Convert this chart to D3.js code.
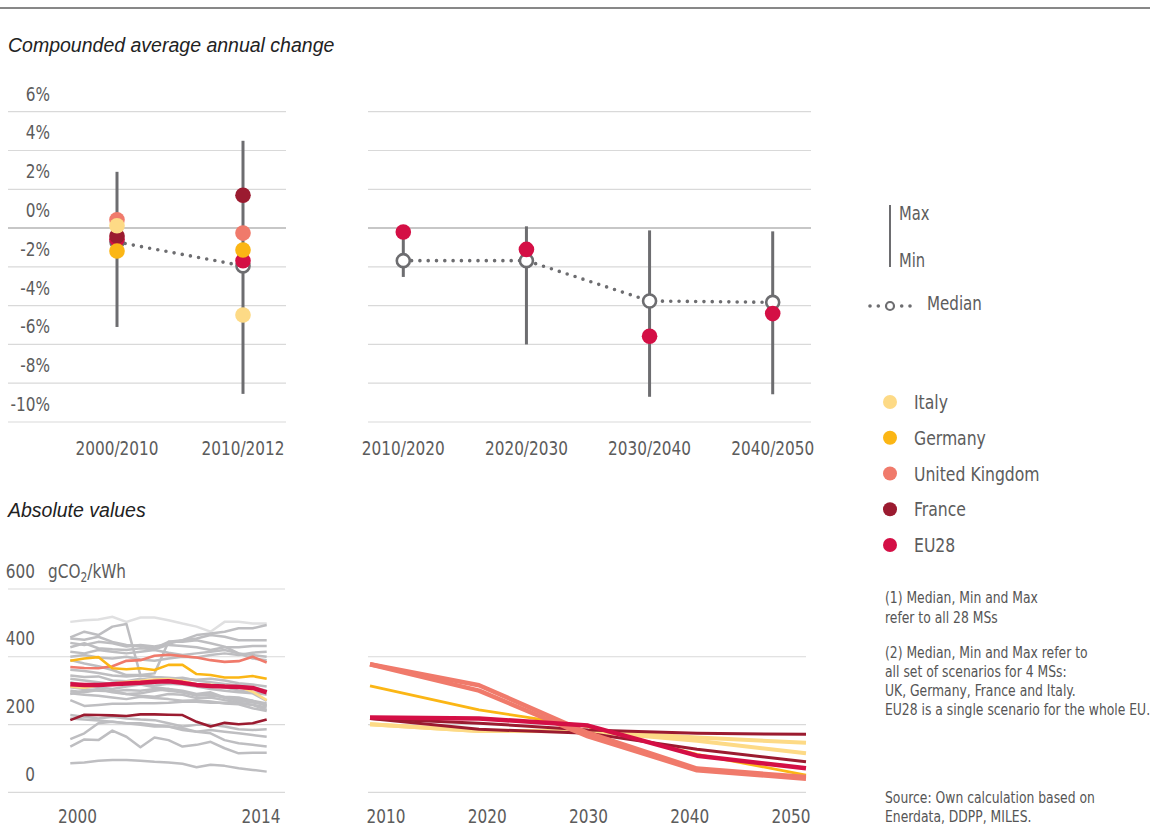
<!DOCTYPE html>
<html>
<head>
<meta charset="utf-8">
<script src="https://cdn.jsdelivr.net/npm/d3@7"></script>
<style>
  body { margin: 0; background: #fff; }
  .narrow { font-family: 'Liberation Sans Narrow', 'DejaVu Sans Condensed', 'Arial Narrow', sans-serif; }
  .title { font-family: 'Liberation Sans', Arial, sans-serif; font-style: italic; font-size: 19.5px; fill: #222; }
</style>
</head>
<body>
<div id="chart"></div>
<script>
var w = 1162,
    h = 828;

// ---- top: compounded average annual change (%)
var leftPeriods = ["2000/2010", "2010/2012"];
var leftMax = [2.9, 4.5];
var leftMin = [-5.1, -8.55];
var leftMedian = [-0.72, -1.95];
var italyChange = [0.12, -4.48];
var germanyChange = [-1.18, -1.13];
var ukChange = [0.43, -0.26];
var franceChange = [-0.41, 1.69];
var eu28Change = [-0.58, -1.68];

var rightPeriods = ["2010/2020", "2020/2030", "2030/2040", "2040/2050"];
var rightMax = [-0.3, 0.09, -0.12, -0.17];
var rightMin = [-2.52, -6.0, -8.7, -8.57];
var rightMedian = [-1.68, -1.68, -3.76, -3.83];
var eu28Scenario = [-0.2, -1.1, -5.58, -4.41];

var pctTicks = [6, 4, 2, 0, -2, -4, -6, -8, -10];

// ---- bottom left: historic gCO2/kWh, 2000-2014
var histYears = [2000, 2001, 2002, 2003, 2004, 2005, 2006, 2007, 2008, 2009, 2010, 2011, 2012, 2013, 2014];
var greyLight = [503, 508, 510, 518, 503, 516, 516, 508, 498, 489, 474, 503, 503, 498, 498];
var greySeries = [
  [457, 474, 464, 489, 497, 345, 340, 335, 338, 330, 325, 320, 315, 310, 300],
  [454, 450, 459, 444, 435, 432, 425, 444, 449, 464, 469, 474, 484, 484, 494],
  [441, 435, 444, 440, 430, 435, 430, 438, 449, 454, 464, 459, 449, 449, 449],
  [428, 440, 425, 422, 420, 425, 422, 435, 432, 428, 420, 428, 428, 432, 432],
  [415, 410, 420, 415, 410, 415, 420, 412, 405, 410, 415, 420, 410, 405, 400],
  [400, 405, 398, 395, 400, 392, 388, 395, 400, 398, 405, 410, 405, 412, 415],
  [390, 380, 372, 361, 346, 346, 351, 444, 444, 449, 440, 430, 410, 395, 390],
  [362, 358, 352, 345, 342, 345, 340, 338, 335, 332, 335, 330, 322, 318, 312],
  [345, 340, 342, 330, 328, 335, 330, 325, 320, 318, 315, 310, 300, 295, 288],
  [335, 330, 325, 320, 322, 318, 315, 320, 318, 312, 305, 300, 295, 292, 270],
  [325, 315, 310, 305, 312, 318, 310, 305, 300, 290, 295, 280, 275, 270, 262],
  [310, 305, 300, 298, 302, 300, 305, 300, 295, 288, 285, 282, 280, 270, 255],
  [300, 295, 302, 298, 290, 285, 282, 290, 288, 278, 280, 272, 265, 258, 250],
  [292, 288, 285, 280, 275, 282, 278, 275, 270, 272, 268, 262, 260, 248, 240],
  [290, 300, 305, 295, 290, 292, 300, 305, 295, 285, 290, 278, 270, 265, 258],
  [272, 255, 258, 261, 261, 263, 263, 264, 267, 267, 264, 264, 262, 258, 243],
  [228, 223, 218, 223, 218, 215, 213, 204, 194, 199, 199, 194, 186, 184, 186],
  [218, 215, 212, 208, 204, 199, 194, 194, 189, 179, 184, 179, 174, 169, 164],
  [157, 174, 204, 208, 204, 204, 199, 194, 184, 179, 174, 154, 145, 140, 135],
  [135, 156, 154, 182, 164, 133, 162, 154, 135, 140, 149, 130, 115, 117, 117],
  [86, 88, 93, 95, 95, 93, 90, 88, 84, 74, 81, 78, 71, 66, 61]
];
var italyHist = [312, 309, 315, 321, 326, 329, 333, 334, 329, 319, 317, 314, 312, 297, 272];
var germanyHist = [388, 395, 399, 366, 363, 366, 361, 376, 376, 349, 346, 339, 339, 343, 335];
var ukHist = [370, 367, 366, 372, 388, 390, 403, 406, 402, 398, 390, 385, 387, 400, 383];
var franceHist = [213, 229, 228, 227, 225, 230, 230, 229, 228, 208, 194, 205, 201, 204, 215];
var eu28Hist = [319, 317, 317, 319, 321, 323, 326, 328, 323, 317, 314, 312, 311, 308, 295];
var histTicks = [600, 400, 200, 0];

// ---- bottom right: scenarios gCO2/kWh, 2010-2050
var scenYears = [2010, 2020, 2030, 2040, 2050];
var italyScenA = [201, 181, 182, 162, 146];
var italyScenB = [201, 181, 180, 152, 115];
var germanyScen = [314, 243, 194, 112, 51];
var franceScenA = [218, 204, 184, 174, 171];
var franceScenB = [218, 186, 174, 127, 90];
var ukScenA = [378, 316, 175, 70, 45];
var ukScenB = [378, 300, 165, 65, 40];
var eu28Scen = [221, 218, 197, 108, 71];

var countries = ["Italy", "Germany", "United Kingdom", "France", "EU28"];
var colors = ["#fdda86", "#fbb615", "#f07a6b", "#9b1b30", "#d40f45"];
var color = d3.scaleOrdinal().domain(countries).range(colors);

var grid = "#d9d9d9", zeroLine = "#b4b4b4", ink = "#6d6d70", label = "#5c5c5c";
var squeeze = 0.85;   // fake a condensed face

var svg = d3.select("#chart")
  .append("svg")
  .attr("width", w)
  .attr("height", h);

// put condensed text at (x, y)
function place(sel, xf, yf, k) {
  sel.attr("transform", function(d, i) {
    var x = typeof xf === "function" ? xf(d, i) : xf;
    var y = typeof yf === "function" ? yf(d, i) : yf;
    return "translate(" + x + "," + y + ") scale(" + (k || squeeze) + ",1)";
  });
  return sel;
}

svg.append("line")
  .attr("x1", 0).attr("x2", 1150).attr("y1", 8).attr("y2", 8)
  .attr("stroke", "#111").attr("stroke-width", 1);

svg.append("text").attr("class", "title").attr("x", 8).attr("y", 52)
  .text("Compounded average annual change");
svg.append("text").attr("class", "title").attr("x", 8).attr("y", 517)
  .text("Absolute values");

// ================= top panels
var yPct = d3.scaleLinear().domain([-10, 6]).range([422, 111.7]);

function pctGrid(x0, x1) {
  svg.append("g").selectAll("line")
    .data(pctTicks)
    .enter()
    .append("line")
    .attr("x1", x0).attr("x2", x1)
    .attr("y1", function(d) { return yPct(d); })
    .attr("y2", function(d) { return yPct(d); })
    .attr("stroke", function(d) { return d === 0 ? zeroLine : grid; })
    .attr("stroke-width", function(d) { return d === 0 ? 1.6 : 1.2; });
}
pctGrid(8, 286);
pctGrid(368, 811);

place(svg.append("g").selectAll("text")
  .data(pctTicks)
  .enter()
  .append("text")
  .attr("class", "narrow")
  .attr("text-anchor", "end")
  .attr("font-size", "20px")
  .attr("fill", label)
  .text(function(d) { return d + "%"; }),
  50, function(d) { return yPct(d) - 11; });

function rangePanel(periods, maxs, mins, medians, x0, x1) {
  var x = d3.scalePoint().domain(periods).range([x0, x1]);
  var g = svg.append("g");
  g.selectAll(".whisker")
    .data(periods)
    .enter()
    .append("line")
    .attr("x1", function(d) { return x(d); })
    .attr("x2", function(d) { return x(d); })
    .attr("y1", function(d, i) { return yPct(maxs[i]); })
    .attr("y2", function(d, i) { return yPct(mins[i]); })
    .attr("stroke", ink)
    .attr("stroke-width", 3);

  var line = d3.line()
    .x(function(d) { return x(d); })
    .y(function(d, i) { return yPct(medians[i]); });
  g.append("path")
    .datum(periods)
    .attr("d", line)
    .attr("fill", "none")
    .attr("stroke", ink)
    .attr("stroke-width", 3.6)
    .attr("stroke-linecap", "round")
    .attr("stroke-dasharray", "0,8.3");

  g.selectAll(".median")
    .data(periods)
    .enter()
    .append("circle")
    .attr("cx", function(d) { return x(d); })
    .attr("cy", function(d, i) { return yPct(medians[i]); })
    .attr("r", 6.5)
    .attr("fill", "#fff")
    .attr("stroke", ink)
    .attr("stroke-width", 2.6);

  place(g.selectAll(".tick")
    .data(periods)
    .enter()
    .append("text")
    .attr("class", "narrow")
    .attr("text-anchor", "middle")
    .attr("font-size", "20px")
    .attr("fill", label)
    .text(function(d) { return d; }),
    function(d) { return x(d); }, 455);
  return x;
}

var xLeft = rangePanel(leftPeriods, leftMax, leftMin, leftMedian, 117, 243);
var xRight = rangePanel(rightPeriods, rightMax, rightMin, rightMedian, 403.3, 772.7);

function dots(x, periods, values, name) {
  svg.append("g").selectAll("circle")
    .data(values)
    .enter()
    .append("circle")
    .attr("cx", function(d, i) { return x(periods[i]); })
    .attr("cy", function(d) { return yPct(d); })
    .attr("r", 7.8)
    .attr("fill", color(name));
}
dots(xLeft, leftPeriods, eu28Change, "EU28");
dots(xLeft, leftPeriods, franceChange, "France");
dots(xLeft, leftPeriods, ukChange, "United Kingdom");
dots(xLeft, leftPeriods, italyChange, "Italy");
dots(xLeft, leftPeriods, germanyChange, "Germany");
dots(xRight, rightPeriods, eu28Scenario, "EU28");

// legend: max/min, median
var lg = svg.append("g").attr("class", "narrow").attr("font-size", "20px").attr("fill", label);
lg.append("line").attr("x1", 890).attr("x2", 890).attr("y1", 205).attr("y2", 267)
  .attr("stroke", ink).attr("stroke-width", 2);
place(lg.append("text").text("Max"), 899, 220, 0.82);
place(lg.append("text").text("Min"), 899, 267, 0.82);
lg.selectAll(".mdot")
  .data([870, 878.3, 901.7, 910])
  .enter()
  .append("circle")
  .attr("cx", function(d) { return d; })
  .attr("cy", 306)
  .attr("r", 1.8)
  .attr("fill", ink);
lg.append("circle").attr("cx", 890).attr("cy", 306).attr("r", 4)
  .attr("fill", "#fff").attr("stroke", ink).attr("stroke-width", 2.2);
place(lg.append("text").text("Median"), 927, 310, 0.84);

var legendY = d3.scalePoint().domain(countries).range([402, 545]);
var items = lg.selectAll(".item")
  .data(countries)
  .enter()
  .append("g");
items.append("circle")
  .attr("cx", 890)
  .attr("cy", function(d) { return legendY(d); })
  .attr("r", 7)
  .attr("fill", function(d) { return color(d); });
place(items.append("text")
  .text(function(d) { return d; }),
  914, function(d) { return legendY(d) + 7; }, 0.87);

// ================= bottom panels
var yAbs = d3.scaleLinear().domain([0, 600]).range([792.3, 589]);

svg.append("g").selectAll("line")
  .data(histTicks)
  .enter()
  .append("line")
  .attr("x1", 8).attr("x2", 285)
  .attr("y1", function(d) { return yAbs(d); })
  .attr("y2", function(d) { return yAbs(d); })
  .attr("stroke", grid).attr("stroke-width", 1.2);
svg.append("g").selectAll("line")
  .data(histTicks.slice(1))
  .enter()
  .append("line")
  .attr("x1", 368).attr("x2", 806)
  .attr("y1", function(d) { return yAbs(d); })
  .attr("y2", function(d) { return yAbs(d); })
  .attr("stroke", grid).attr("stroke-width", 1.2);

place(svg.append("g").selectAll("text")
  .data(histTicks)
  .enter()
  .append("text")
  .attr("class", "narrow")
  .attr("text-anchor", "end")
  .attr("font-size", "20px")
  .attr("fill", label)
  .text(function(d) { return d; }),
  35, function(d) { return yAbs(d) - 11.5; });

var unit = place(svg.append("text").attr("class", "narrow")
  .attr("font-size", "20px").attr("fill", label), 48, yAbs(600) - 11.5);
unit.append("tspan").text("gCO");
unit.append("tspan").attr("font-size", "14px").attr("dy", 4).text("2");
unit.append("tspan").attr("dy", -4).text("/kWh");

var xHist = d3.scaleLinear().domain([2000, 2014]).range([70.3, 266.7]);
var xHistLabel = d3.scaleLinear().domain([2000, 2014]).range([77.5, 261]);
var histLine = d3.line()
  .x(function(d, i) { return xHist(histYears[i]); })
  .y(function(d) { return yAbs(d); });

svg.append("path").datum(greyLight).attr("d", histLine)
  .attr("fill", "none").attr("stroke", "#e0e0e1").attr("stroke-width", 2.5);
svg.append("g").selectAll("path")
  .data(greySeries)
  .enter()
  .append("path")
  .attr("d", histLine)
  .attr("fill", "none")
  .attr("stroke", "#bebec1")
  .attr("stroke-width", 2.5)
  .attr("stroke-linejoin", "round");

var histColored = [
  { name: "France", v: franceHist, sw: 2.6 },
  { name: "Italy", v: italyHist, sw: 2.6 },
  { name: "United Kingdom", v: ukHist, sw: 2.6 },
  { name: "Germany", v: germanyHist, sw: 2.6 },
  { name: "EU28", v: eu28Hist, sw: 4.5 }
];
svg.append("g").selectAll("path")
  .data(histColored)
  .enter()
  .append("path")
  .attr("d", function(d) { return histLine(d.v); })
  .attr("fill", "none")
  .attr("stroke", function(d) { return color(d.name); })
  .attr("stroke-width", function(d) { return d.sw; })
  .attr("stroke-linejoin", "round");

place(svg.append("g").selectAll("text")
  .data([2000, 2014])
  .enter()
  .append("text")
  .attr("class", "narrow")
  .attr("text-anchor", "middle")
  .attr("font-size", "20px")
  .attr("fill", label)
  .text(function(d) { return d; }),
  function(d) { return xHistLabel(d); }, 823);

var xScen = d3.scaleLinear().domain([2010, 2050]).range([370, 806]);
var xScenLabel = d3.scaleLinear().domain([2010, 2050]).range([386, 791]);
var scenLine = d3.line()
  .x(function(d, i) { return xScen(scenYears[i]); })
  .y(function(d) { return yAbs(d); });

var scenColored = [
  { name: "Italy", v: italyScenA, sw: 4 },
  { name: "Italy", v: italyScenB, sw: 4 },
  { name: "Germany", v: germanyScen, sw: 2.8 },
  { name: "France", v: franceScenA, sw: 3 },
  { name: "France", v: franceScenB, sw: 3 },
  { name: "United Kingdom", v: ukScenA, sw: 4.5 },
  { name: "United Kingdom", v: ukScenB, sw: 4.5 },
  { name: "EU28", v: eu28Scen, sw: 4.5 }
];
svg.append("g").selectAll("path")
  .data(scenColored)
  .enter()
  .append("path")
  .attr("d", function(d) { return scenLine(d.v); })
  .attr("fill", "none")
  .attr("stroke", function(d) { return color(d.name); })
  .attr("stroke-width", function(d) { return d.sw; })
  .attr("stroke-linejoin", "round");

place(svg.append("g").selectAll("text")
  .data(scenYears)
  .enter()
  .append("text")
  .attr("class", "narrow")
  .attr("text-anchor", "middle")
  .attr("font-size", "20px")
  .attr("fill", label)
  .text(function(d) { return d; }),
  function(d) { return xScenLabel(d); }, 823);

// notes
var notes = [
  ["(1) Median, Min and Max", 603],
  ["refer to all 28 MSs", 623],
  ["(2) Median, Min and Max refer to", 658],
  ["all set of scenarios for 4 MSs:", 677],
  ["UK, Germany, France and Italy.", 696],
  ["EU28 is a single scenario for the whole EU.", 715],
  ["Source: Own calculation based on", 803],
  ["Enerdata, DDPP, MILES.", 822]
];
place(svg.append("g").selectAll("text")
  .data(notes)
  .enter()
  .append("text")
  .attr("class", "narrow")
  .attr("font-size", "16px")
  .attr("fill", "#555")
  .text(function(d) { return d[0]; }),
  885, function(d) { return d[1]; }, 0.86);
</script>
</body>
</html>
